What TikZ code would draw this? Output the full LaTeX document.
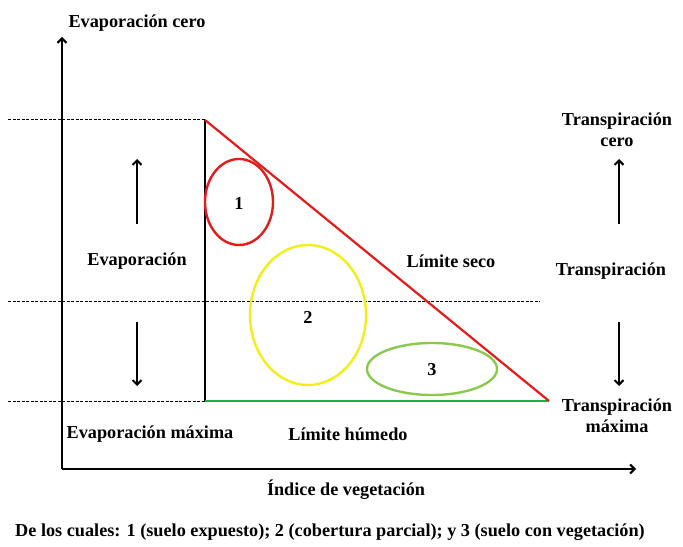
\documentclass[tikz,border=0pt]{standalone}
\usepackage{fontspec}
\setmainfont{Liberation Serif}
\usetikzlibrary{arrows.meta}
\definecolor{redline}{HTML}{E41B1B}
\definecolor{yellowell}{HTML}{F2EE1A}
\definecolor{greenell}{HTML}{8CC850}
\definecolor{greenline}{HTML}{1EAF4B}
\begin{document}
\begin{tikzpicture}[x=1bp,y=-1bp,
  lbl/.style={font=\fontsize{18.3}{21}\selectfont\bfseries, inner sep=0pt, align=center},
  axisline/.style={line width=2bp, -{Straight Barb[length=4.5bp,width=9bp,line width=2bp]}},
  arr/.style={line width=2bp, -{Straight Barb[length=4.5bp,width=9bp,line width=2bp]}},
  dashline/.style={line width=1bp, dash pattern=on 3bp off 1.5bp}]
\useasboundingbox (0,0) rectangle (683,547);
% axes
\coordinate (O) at (62,469);
\coordinate (Ytop) at (62,37);
\coordinate (Xend) at (636,469);
\draw[axisline] (O) -- (Ytop);
\draw[axisline] (O) -- (Xend);
% triangle points
\coordinate (A) at (205,120);
\coordinate (B) at (205,401);
\coordinate (C) at (549,401);
% dashed lines
\coordinate (d1) at (8,120);
\coordinate (d2) at (8,301);
\coordinate (d2e) at (540,301);
\coordinate (d3) at (8,401);
\draw[dashline] (d1) -- (A);
\draw[dashline] (d2) -- (d2e);
\draw[dashline] (d3) -- (B);
% triangle
\draw[line width=2.2bp] (A) -- (B);
\draw[line width=2.4bp, greenline] (B) -- (C);
\draw[line width=2.2bp, redline] (A) -- (C);
% ellipses
\draw[redline, line width=2.4bp] (239,202) ellipse [x radius=34, y radius=43];
\draw[yellowell, line width=2.4bp] (308,315) ellipse [x radius=58, y radius=70];
\draw[greenell, line width=2.4bp] (432,369) ellipse [x radius=65, y radius=26];
\node[lbl] (n1) at (239,203) {1};
\node[lbl] (n2) at (308,317) {2};
\node[lbl] (n3) at (432,370) {3};
% left arrows
\coordinate (lu1) at (137,224);
\coordinate (lu2) at (137,159);
\coordinate (ld1) at (137,322);
\coordinate (ld2) at (137,386);
\draw[arr] (lu1) -- (lu2);
\draw[arr] (ld1) -- (ld2);
% right arrows
\coordinate (ru1) at (619,224);
\coordinate (ru2) at (619,159);
\coordinate (rd1) at (619,322);
\coordinate (rd2) at (619,386);
\draw[arr] (ru1) -- (ru2);
\draw[arr] (rd1) -- (rd2);
% labels
\node[lbl] (evc) at (137,23) {Evaporación cero};
\node[lbl] (ev) at (137,261) {Evaporación};
\node[lbl] (evm) at (150,434) {Evaporación máxima};
\node[lbl] (lh) at (348,434) {Límite húmedo};
\node[lbl] (ls) at (451,261) {Límite seco};
\node[lbl] (tc) at (617,130) {Transpiración\\cero};
\node[lbl] (tr) at (611,271) {Transpiración};
\node[lbl] (tm) at (617,416) {Transpiración\\máxima};
\node[lbl] (iv) at (346,490) {Índice de vegetación};
\node[lbl] (cap) at (330,532) {De los cuales: 1 (suelo expuesto); 2 (cobertura parcial); y 3 (suelo con vegetación)};
\end{tikzpicture}
\end{document}
